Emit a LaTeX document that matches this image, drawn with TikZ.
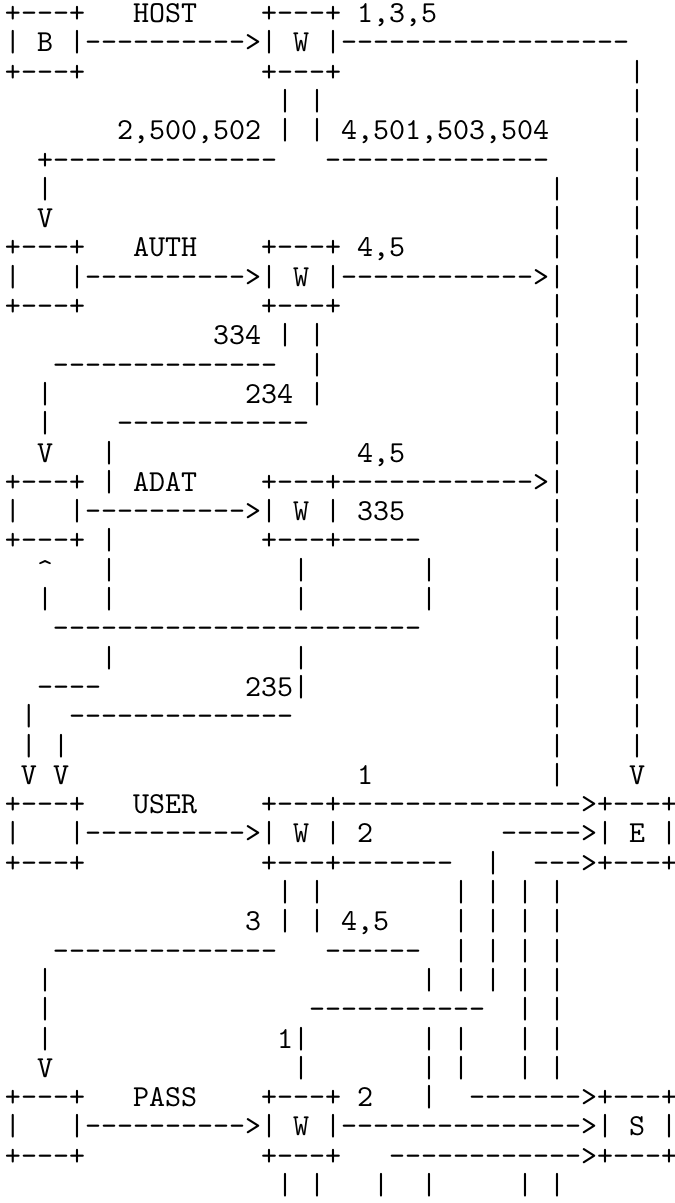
\documentclass[tikz,border=0pt]{standalone}
\usepackage{fontspec}
\newfontfamily\asciifont{lmmono10-regular.otf}[Ligatures=TeXOff]

\begin{document}
\begin{tikzpicture}[x=16pt, y=-29.3pt,
    ascii/.style={anchor=base west, inner sep=0pt, outer sep=0pt,
        font=\asciifont\fontsize{30.48pt}{29.3pt}\selectfont\frenchspacing}]
    \useasboundingbox (-0.3125,0.232) rectangle (41.875,41.29);

    % HOST row
    \node[ascii] (btop) at (0,1) {+---+};
    \node[ascii] (host) at (8,1) {HOST};
    \node[ascii] (hostw) at (16,1) {+---+ 1,3,5};
    \node[ascii] (hostmid) at (0,2) {| B |---------->| W |------------------};
    \node[ascii] (bbot) at (0,3) {+---+};
    \node[ascii] (hostwbot) at (16,3) {+---+};
    \node[ascii] (hostout) at (17,4) {| |};
    \node[ascii] (hostcodes) at (7,5) {2,500,502 | | 4,501,503,504};
    \node[ascii] (hostleft) at (2,6) {+--------------};
    \node[ascii] (hostright) at (20,6) {--------------};
    \node[ascii] (toauth) at (2,7) {|};
    \node[ascii] (toauthtip) at (2,8) {V};

    % long lines on the right
    \foreach \r in {3,...,26}
        \node[ascii] (tee\r) at (39,\r) {|};
    \node[ascii] (teetip) at (39,27) {V};
    \foreach \r in {7,8,9,11,12,13,14,15,16,18,19,20,21,22,23,24,25,26,27}
        \node[ascii] (tobus\r) at (34,\r) {|};

    % AUTH row
    \node[ascii] (atop) at (0,9) {+---+};
    \node[ascii] (auth) at (8,9) {AUTH};
    \node[ascii] (authw) at (16,9) {+---+ 4,5};
    \node[ascii] (aleft) at (0,10) {|};
    \node[ascii] (authmid) at (4,10) {|---------->| W |------------>|};
    \node[ascii] (abot) at (0,11) {+---+};
    \node[ascii] (authwbot) at (16,11) {+---+};
    \node[ascii] (authcodes) at (13,12) {334 | |};
    \node[ascii] (authleft) at (3,13) {--------------};
    \node[ascii] (authdown) at (19,13) {|};
    \node[ascii] (toadat) at (2,14) {|};
    \node[ascii] (authcode) at (15,14) {234 |};
    \node[ascii] (toadat2) at (2,15) {|};
    \node[ascii] (authback) at (7,15) {------------};
    \node[ascii] (toadattip) at (2,16) {V};
    \node[ascii] (adatcode) at (22,16) {4,5};

    % ADAT row
    \node[ascii] (dtop) at (0,17) {+---+};
    \node[ascii] (adat) at (8,17) {ADAT};
    \node[ascii] (adatw) at (16,17) {+---+------------>|};
    \node[ascii] (dleft) at (0,18) {|};
    \node[ascii] (adatmid) at (4,18) {|---------->| W | 335};
    \node[ascii] (dbot) at (0,19) {+---+};
    \node[ascii] (adatwbot) at (16,19) {+---+-----};
    \foreach \r in {16,17,19,20,21,23}
        \node[ascii] (back\r) at (6,\r) {|};
    \node[ascii] (fromtip) at (2,20) {\textasciicircum};
    \node[ascii] (from) at (2,21) {|};
    \foreach \r in {20,21,23}
        \node[ascii] (adatout\r) at (18,\r) {|};
    \foreach \r in {20,21}
        \node[ascii] (adatloop\r) at (26,\r) {|};
    \node[ascii] (adatjoin) at (3,22) {-----------------------};
    \node[ascii] (touserleft) at (2,24) {----};
    \node[ascii] (adatcode2) at (15,24) {235|};
    \node[ascii] (touser) at (1,25) {|};
    \node[ascii] (adatback) at (4,25) {--------------};
    \node[ascii] (touser2) at (1,26) {| |};
    \node[ascii] (tousertips) at (1,27) {V V};
    \node[ascii] (usercode) at (22,27) {1};

    % USER row
    \node[ascii] (utop) at (0,28) {+---+};
    \node[ascii] (user) at (8,28) {USER};
    \node[ascii] (userw) at (16,28) {+---+--------------->+---+};
    \node[ascii] (uleft) at (0,29) {|};
    \node[ascii] (usermid) at (4,29) {|---------->| W | 2};
    \node[ascii] (emid) at (31,29) {----->| E |};
    \node[ascii] (ubot) at (0,30) {+---+};
    \node[ascii] (userwbot) at (16,30) {+---+-------};
    \node[ascii] (userup) at (30,30) {|};
    \node[ascii] (ebot) at (33,30) {--->+---+};
    \node[ascii] (userout) at (17,31) {| |};
    \node[ascii] (userbus) at (28,31) {| | | |};
    \node[ascii] (usercodes) at (15,32) {3 | | 4,5};
    \node[ascii] (userbus2) at (28,32) {| | | |};
    \node[ascii] (userleft) at (3,33) {--------------};
    \node[ascii] (userright) at (20,33) {------};
    \node[ascii] (userbus3) at (28,33) {| | | |};
    \node[ascii] (userbus4) at (26,34) {| | | | |};
    \foreach \r in {34,35,36}
        \node[ascii] (topass\r) at (2,\r) {|};
    \node[ascii] (topasstip) at (2,37) {V};
    \node[ascii] (userjoin) at (19,35) {-----------};
    \node[ascii] (userbus5) at (32,35) {| |};
    \node[ascii] (passcode) at (17,36) {1|};
    \node[ascii] (passin) at (18,37) {|};
    \foreach \r in {36,37} {
        \node[ascii] (userbusa\r) at (26,\r) {| |};
        \node[ascii] (userbusb\r) at (32,\r) {| |};
    }

    % PASS row
    \node[ascii] (ptop) at (0,38) {+---+};
    \node[ascii] (pass) at (8,38) {PASS};
    \node[ascii] (passw) at (16,38) {+---+ 2};
    \node[ascii] (passup) at (26,38) {|};
    \node[ascii] (stop) at (29,38) {------->+---+};
    \node[ascii] (pleft) at (0,39) {|};
    \node[ascii] (passmid) at (4,39) {|---------->| W |--------------->| S |};
    \node[ascii] (pbot) at (0,40) {+---+};
    \node[ascii] (passwbot) at (16,40) {+---+};
    \node[ascii] (sbot) at (24,40) {------------>+---+};
    \node[ascii] (passout) at (17,41) {| |};
    \node[ascii] (passout2) at (23,41) {|};
    \node[ascii] (passout3) at (26,41) {|};
    \node[ascii] (passout4) at (32,41) {| |};
\end{tikzpicture}
\end{document}
